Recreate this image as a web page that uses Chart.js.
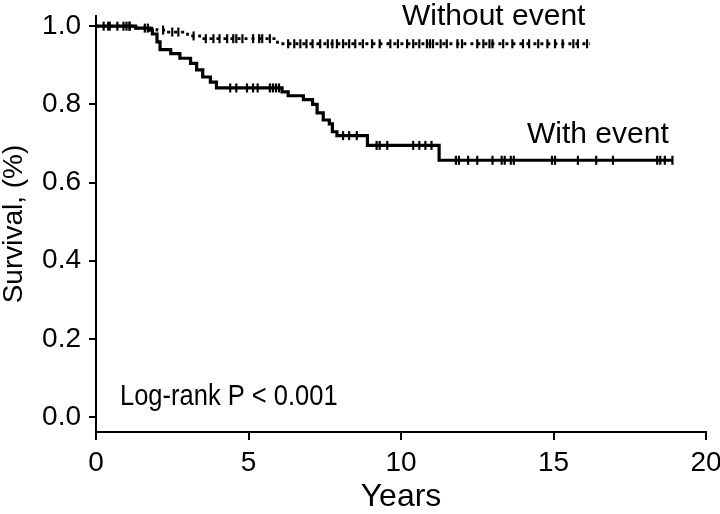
<!DOCTYPE html>
<html lang="en">
<head>
    <meta charset="UTF-8">
    <title>Survival curves</title>
    <script src="https://cdn.jsdelivr.net/npm/chart.js@4.4.1/dist/chart.umd.min.js"></script>
    <style>
        body {
            margin: 0;
            background: #fff;
        }
        .chart-box {
            width: 720px;
            height: 514px;
        }
    </style>
</head>
<body>
    <div class="chart-box">
        <canvas id="kmChart"></canvas>
    </div>

    <script>
        // Kaplan-Meier steps (years, survival)
        const withTimes = [0, 1.3, 1.75, 1.85, 2.0, 2.1, 2.45, 2.75, 3.1, 3.3, 3.5, 3.75, 3.95, 6.1, 6.3, 6.8, 7.1, 7.25, 7.45, 7.65, 7.75, 7.9, 8.9, 11.25, 18.9];
        const withSurv = [1.0, 0.995, 0.99, 0.98, 0.96, 0.94, 0.93, 0.918, 0.905, 0.888, 0.87, 0.857, 0.842, 0.832, 0.822, 0.812, 0.80, 0.778, 0.76, 0.75, 0.73, 0.72, 0.695, 0.657, 0.657];

        const withoutTimes = [0, 1.3, 2.0, 2.3, 3.0, 3.4, 5.95, 16.2];
        const withoutSurv = [1.0, 0.995, 0.99, 0.985, 0.975, 0.968, 0.955, 0.955];

        // censored observations (tick marks)
        const withCensor = [0.4, 0.7, 1.1, 4.4, 4.6, 4.95, 5.15, 5.3, 5.7, 5.8, 5.9, 6.0, 8.1, 8.3, 8.55, 9.2, 9.3, 9.55, 10.4, 10.6, 10.8, 11.0, 11.8, 11.9, 12.2, 12.5, 13.0, 13.3, 13.4, 13.6, 13.7, 14.95, 15.05, 15.8, 16.4, 16.95, 18.4, 18.5, 18.65, 18.9];
        const withoutCensor = [0.25, 0.45, 0.9, 1.0, 1.1, 1.6, 1.7, 2.2, 2.5, 2.7, 3.2, 3.6, 3.85, 4.05, 4.3, 4.5, 4.6, 4.8, 5.15, 5.35, 5.45, 5.7, 6.3, 6.5, 6.7, 6.9, 7.1, 7.35, 7.6, 7.75, 7.9, 8.1, 8.3, 8.5, 8.75, 9.05, 9.3, 9.65, 9.9, 10.2, 10.4, 10.6, 10.85, 10.95, 11.05, 11.3, 11.5, 11.85, 12.0, 12.5, 12.7, 12.9, 13.0, 13.35, 13.65, 14.0, 14.2, 14.5, 14.8, 15.05, 15.3, 15.65, 15.8, 16.1];

        const yTicks = [0, 0.2, 0.4, 0.6, 0.8, 1.0];

        const fontFamily = '"Liberation Sans", Arial, Helvetica, sans-serif';

        function steps(times, surv) {
            return times.map((t, i) => ({ x: t, y: surv[i] }));
        }

        function survAt(times, surv, t) {
            let s = surv[0];
            for (let i = 0; i < times.length; i++) {
                if (times[i] <= t) s = surv[i];
            }
            return s;
        }

        function marks(censor, times, surv) {
            return censor.map(t => ({ x: t, y: survAt(times, surv, t) }));
        }

        // plain text labels on the plot
        const labelPlugin = {
            id: 'labels',
            afterDraw(chart) {
                const ctx = chart.ctx;
                ctx.save();
                ctx.fillStyle = '#000';
                ctx.textAlign = 'left';
                ctx.textBaseline = 'alphabetic';
                ctx.font = '30px ' + fontFamily;
                ctx.fillText('Without event', 402, 25);
                ctx.fillText('With event', 527, 143);
                // condensed look for the p-value note
                ctx.font = '30px ' + fontFamily;
                ctx.translate(120, 405);
                ctx.scale(0.85, 1);
                ctx.fillText('Log-rank P < 0.001', 0, 0);
                ctx.restore();
            }
        };

        const tickMark = {
            type: 'scatter',
            showLine: false,
            pointStyle: 'line',
            rotation: 90,
            pointRadius: 4.5,
            pointBorderWidth: 2.2,
            borderColor: '#000',
            backgroundColor: '#000'
        };

        new Chart(document.getElementById('kmChart'), {
            type: 'line',
            data: {
                datasets: [
                    {
                        label: 'Without event',
                        data: steps(withoutTimes, withoutSurv),
                        stepped: 'before',
                        borderColor: '#000',
                        borderWidth: 2.8,
                        borderDash: [3, 4],
                        pointRadius: 0,
                        fill: false
                    },
                    {
                        label: 'With event',
                        data: steps(withTimes, withSurv),
                        stepped: 'before',
                        borderColor: '#000',
                        borderWidth: 3.2,
                        pointRadius: 0,
                        fill: false
                    },
                    Object.assign({ label: 'censored without', data: marks(withoutCensor, withoutTimes, withoutSurv) }, tickMark),
                    Object.assign({ label: 'censored with', data: marks(withCensor, withTimes, withSurv) }, tickMark)
                ]
            },
            options: {
                responsive: true,
                maintainAspectRatio: false,
                animation: false,
                layout: {
                    padding: { top: 16, right: 14, bottom: 0, left: 0 }
                },
                plugins: {
                    legend: { display: false },
                    tooltip: { enabled: false }
                },
                scales: {
                    x: {
                        type: 'linear',
                        min: 0,
                        max: 20,
                        afterFit: scale => {
                            scale.height = 82;
                            scale.paddingLeft = 0;
                            scale.paddingRight = 0;
                        },
                        ticks: {
                            stepSize: 5,
                            color: '#000',
                            padding: 6,
                            font: { family: fontFamily, size: 28 }
                        },
                        grid: {
                            drawOnChartArea: false,
                            drawTicks: true,
                            tickLength: 8,
                            color: '#000',
                            lineWidth: 2
                        },
                        border: { display: true, color: '#000', width: 2 },
                        title: {
                            display: true,
                            text: 'Years',
                            color: '#000',
                            padding: 0,
                            font: { family: fontFamily, size: 32, lineHeight: 1.05 }
                        }
                    },
                    y: {
                        type: 'linear',
                        min: -0.038,
                        max: 1.026,
                        afterFit: scale => {
                            scale.width = 96;
                            scale.paddingTop = 0;
                            scale.paddingBottom = 0;
                        },
                        afterBuildTicks: scale => {
                            scale.ticks = yTicks.map(v => ({ value: v }));
                        },
                        ticks: {
                            color: '#000',
                            padding: 8,
                            callback: v => v.toFixed(1),
                            font: { family: fontFamily, size: 28 }
                        },
                        grid: {
                            drawOnChartArea: false,
                            drawTicks: true,
                            tickLength: 7,
                            color: '#000',
                            lineWidth: 2
                        },
                        border: { display: true, color: '#000', width: 2 },
                        title: {
                            display: true,
                            text: 'Survival, (%)',
                            color: '#000',
                            padding: 0,
                            font: { family: fontFamily, size: 28, lineHeight: 1.0 }
                        }
                    }
                }
            },
            plugins: [labelPlugin]
        });
    </script>
</body>
</html>
